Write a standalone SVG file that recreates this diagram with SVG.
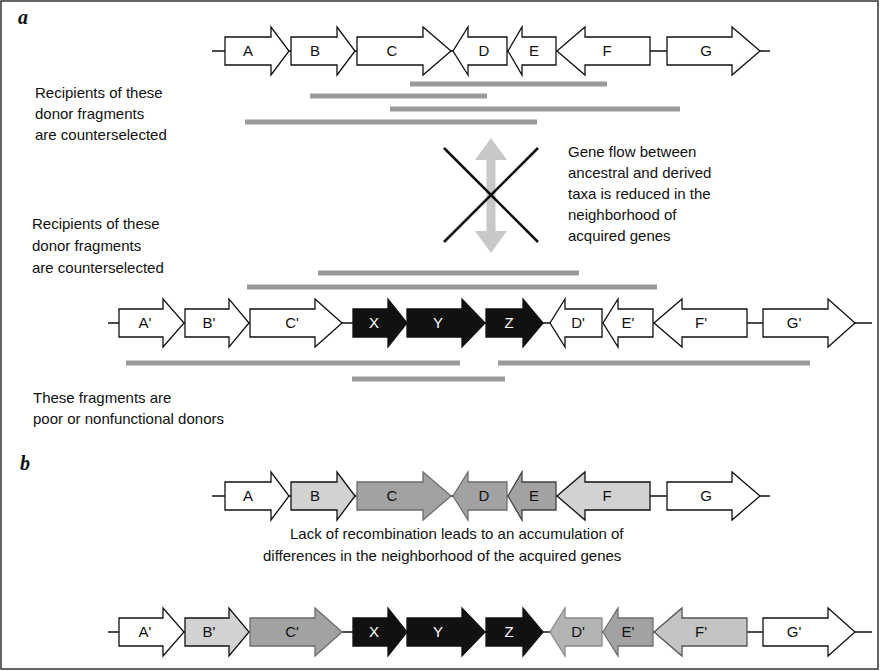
<svg xmlns="http://www.w3.org/2000/svg" width="880" height="671" viewBox="0 0 880 671">
  <style>
    .gene { stroke: #111; stroke-width: 1.3; stroke-linejoin: miter; }
    .w { fill: #fff; }
    .blk { fill: #111; }
    .lg { fill: #d2d2d2; }
    .mg { fill: #a2a2a2; stroke: #6e6e6e; }
    .bb { stroke: #111; stroke-width: 1.3; fill: none; }
    .bar { stroke: #999; stroke-width: 5; }
    .glab { font-family: "Liberation Sans", Arial, sans-serif; font-size: 15px; text-anchor: middle; fill: #111; }
    .wlab { font-family: "Liberation Sans", Arial, sans-serif; font-size: 15px; text-anchor: middle; fill: #fff; }
    .txt { font-family: "Liberation Sans", Arial, sans-serif; font-size: 15px; fill: #111; }
    .panel { font-family: "Liberation Serif", "Times New Roman", serif; font-size: 20px; font-weight: bold; font-style: italic; fill: #111; }
  </style>

  <rect x="1" y="1" width="877" height="668" fill="#fff" stroke="#333" stroke-width="1.5"/>

  <text class="panel" x="18" y="24">a</text>
  <text class="panel" x="20" y="470">b</text>

  <!-- panel a: ancestral genome -->
  <g id="row-a-ancestral">
    <line class="bb" x1="212" y1="51" x2="770" y2="51"/>
    <g id="a-A"><path class="gene w" d="M225,37 L271,37 L271,27 L289,51 L271,75 L271,65 L225,65 Z"/><text class="glab" x="248" y="56">A</text></g>
    <g id="a-B"><path class="gene w" d="M291,37 L337,37 L337,27 L355,51 L337,75 L337,65 L291,65 Z"/><text class="glab" x="315" y="56">B</text></g>
    <g id="a-C"><path class="gene w" d="M357,37 L423,37 L423,27 L451,51 L423,75 L423,65 L357,65 Z"/><text class="glab" x="392" y="56">C</text></g>
    <g id="a-D"><path class="gene w" d="M507,37 L468,37 L468,27 L453,51 L468,75 L468,65 L507,65 Z"/><text class="glab" x="484" y="56">D</text></g>
    <g id="a-E"><path class="gene w" d="M556,37 L522,37 L522,27 L508,51 L522,75 L522,65 L556,65 Z"/><text class="glab" x="534" y="56">E</text></g>
    <g id="a-F"><path class="gene w" d="M650,37 L585,37 L585,27 L557,51 L585,75 L585,65 L650,65 Z"/><text class="glab" x="607" y="56">F</text></g>
    <g id="a-G"><path class="gene w" d="M667,37 L732,37 L732,27 L760,51 L732,75 L732,65 L667,65 Z"/><text class="glab" x="706" y="56">G</text></g>
  </g>

  <!-- donor fragments of the ancestral genome -->
  <g id="fragments-top">
    <line class="bar" x1="410" y1="84" x2="607" y2="84"/>
    <line class="bar" x1="310" y1="96" x2="487" y2="96"/>
    <line class="bar" x1="390" y1="109" x2="680" y2="109"/>
    <line class="bar" x1="245" y1="122" x2="537" y2="122"/>
  </g>

  <g id="note-top">
    <text class="txt" x="35" y="98">Recipients of these</text>
    <text class="txt" x="35" y="119">donor fragments</text>
    <text class="txt" x="35" y="140">are counterselected</text>
  </g>

  <!-- blocked gene flow -->
  <g id="gene-flow">
    <path d="M491,138 L507,160 L495.5,160 L495.5,231 L507,231 L491,253 L475,231 L486.5,231 L486.5,160 L475,160 Z" fill="#c8c8c8"/>
    <line x1="444" y1="148" x2="538" y2="242" stroke="#111" stroke-width="2.6"/>
    <line x1="538" y1="148" x2="444" y2="242" stroke="#111" stroke-width="2.6"/>
    <text class="txt" x="568" y="157">Gene flow between</text>
    <text class="txt" x="568" y="178">ancestral and derived</text>
    <text class="txt" x="568" y="199">taxa is reduced in the</text>
    <text class="txt" x="568" y="220">neighborhood of</text>
    <text class="txt" x="568" y="241">acquired genes</text>
  </g>

  <g id="note-mid">
    <text class="txt" x="32" y="229">Recipients of these</text>
    <text class="txt" x="32" y="251">donor fragments</text>
    <text class="txt" x="32" y="273">are counterselected</text>
  </g>

  <g id="fragments-mid">
    <line class="bar" x1="318" y1="273" x2="579" y2="273"/>
    <line class="bar" x1="247" y1="287" x2="657" y2="287"/>
  </g>

  <!-- panel a: derived genome with acquired genes X, Y, Z -->
  <g id="row-a-derived">
    <line class="bb" x1="108" y1="323" x2="872" y2="323"/>
    <g id="a-A2"><path class="gene w" d="M119,309 L163,309 L163,299 L184,323 L163,347 L163,337 L119,337 Z"/><text class="glab" x="145" y="328">A'</text></g>
    <g id="a-B2"><path class="gene w" d="M185,309 L229,309 L229,299 L249,323 L229,347 L229,337 L185,337 Z"/><text class="glab" x="209" y="328">B'</text></g>
    <g id="a-C2"><path class="gene w" d="M250,309 L315,309 L315,299 L342,323 L315,347 L315,337 L250,337 Z"/><text class="glab" x="292" y="328">C'</text></g>
    <g id="a-X"><path class="gene blk" d="M353,309 L388,309 L388,299 L407,323 L388,347 L388,337 L353,337 Z"/><text class="wlab" x="374" y="328">X</text></g>
    <g id="a-Y"><path class="gene blk" d="M407,309 L462,309 L462,299 L485,323 L462,347 L462,337 L407,337 Z"/><text class="wlab" x="438" y="328">Y</text></g>
    <g id="a-Z"><path class="gene blk" d="M486,309 L523,309 L523,299 L543,323 L523,347 L523,337 L486,337 Z"/><text class="wlab" x="509" y="328">Z</text></g>
    <g id="a-D2"><path class="gene w" d="M602,309 L565,309 L565,299 L550,323 L565,347 L565,337 L602,337 Z"/><text class="glab" x="578" y="328">D'</text></g>
    <g id="a-E2"><path class="gene w" d="M653,309 L618,309 L618,299 L603,323 L618,347 L618,337 L653,337 Z"/><text class="glab" x="628" y="328">E'</text></g>
    <g id="a-F2"><path class="gene w" d="M747,309 L682,309 L682,299 L654,323 L682,347 L682,337 L747,337 Z"/><text class="glab" x="701" y="328">F'</text></g>
    <g id="a-G2"><path class="gene w" d="M763,309 L828,309 L828,299 L855,323 L828,347 L828,337 L763,337 Z"/><text class="glab" x="794" y="328">G'</text></g>
  </g>

  <g id="fragments-bottom">
    <line class="bar" x1="126" y1="363" x2="460" y2="363"/>
    <line class="bar" x1="498" y1="363" x2="810" y2="363"/>
    <line class="bar" x1="352" y1="379" x2="505" y2="379"/>
  </g>

  <g id="note-bottom">
    <text class="txt" x="33" y="403">These fragments are</text>
    <text class="txt" x="33" y="424">poor or nonfunctional donors</text>
  </g>

  <!-- panel b: ancestral genome -->
  <g id="row-b-ancestral">
    <line class="bb" x1="212" y1="496" x2="770" y2="496"/>
    <g id="b-A"><path class="gene w" d="M225,482 L271,482 L271,472 L289,496 L271,520 L271,510 L225,510 Z"/><text class="glab" x="248" y="501">A</text></g>
    <g id="b-B"><path class="gene lg" d="M291,482 L337,482 L337,472 L355,496 L337,520 L337,510 L291,510 Z"/><text class="glab" x="315" y="501">B</text></g>
    <g id="b-C"><path class="gene mg" d="M357,482 L423,482 L423,472 L451,496 L423,520 L423,510 L357,510 Z"/><text class="glab" x="392" y="501">C</text></g>
    <g id="b-D"><path class="gene mg" d="M507,482 L468,482 L468,472 L453,496 L468,520 L468,510 L507,510 Z"/><text class="glab" x="484" y="501">D</text></g>
    <g id="b-E"><path class="gene mg" d="M556,482 L522,482 L522,472 L508,496 L522,520 L522,510 L556,510 Z" style="stroke:#444"/><text class="glab" x="534" y="501">E</text></g>
    <g id="b-F"><path class="gene lg" d="M650,482 L585,482 L585,472 L557,496 L585,520 L585,510 L650,510 Z"/><text class="glab" x="607" y="501">F</text></g>
    <g id="b-G"><path class="gene w" d="M667,482 L732,482 L732,472 L760,496 L732,520 L732,510 L667,510 Z"/><text class="glab" x="706" y="501">G</text></g>
  </g>

  <g id="note-b">
    <text class="txt" x="290" y="539">Lack of recombination leads to an accumulation of</text>
    <text class="txt" x="263" y="561">differences in the neighborhood of the acquired genes</text>
  </g>

  <!-- panel b: derived genome -->
  <g id="row-b-derived">
    <line class="bb" x1="108" y1="632" x2="872" y2="632"/>
    <g id="b-A2"><path class="gene w" d="M119,618 L163,618 L163,608 L184,632 L163,656 L163,646 L119,646 Z"/><text class="glab" x="145" y="637">A'</text></g>
    <g id="b-B2"><path class="gene lg" d="M185,618 L229,618 L229,608 L249,632 L229,656 L229,646 L185,646 Z"/><text class="glab" x="209" y="637">B'</text></g>
    <g id="b-C2"><path class="gene mg" d="M250,618 L315,618 L315,608 L342,632 L315,656 L315,646 L250,646 Z"/><text class="glab" x="292" y="637">C'</text></g>
    <g id="b-X"><path class="gene blk" d="M353,618 L388,618 L388,608 L407,632 L388,656 L388,646 L353,646 Z"/><text class="wlab" x="374" y="637">X</text></g>
    <g id="b-Y"><path class="gene blk" d="M407,618 L462,618 L462,608 L485,632 L462,656 L462,646 L407,646 Z"/><text class="wlab" x="438" y="637">Y</text></g>
    <g id="b-Z"><path class="gene blk" d="M486,618 L523,618 L523,608 L543,632 L523,656 L523,646 L486,646 Z"/><text class="wlab" x="509" y="637">Z</text></g>
    <g id="b-D2"><path class="gene mg" d="M602,618 L565,618 L565,608 L550,632 L565,656 L565,646 L602,646 Z" style="fill:#b4b4b4;stroke:#8a8a8a"/><text class="glab" x="578" y="637">D'</text></g>
    <g id="b-E2"><path class="gene mg" d="M653,618 L618,618 L618,608 L603,632 L618,656 L618,646 L653,646 Z"/><text class="glab" x="628" y="637">E'</text></g>
    <g id="b-F2"><path class="gene lg" d="M747,618 L682,618 L682,608 L654,632 L682,656 L682,646 L747,646 Z" style="fill:#c4c4c4;stroke:#555"/><text class="glab" x="701" y="637">F'</text></g>
    <g id="b-G2"><path class="gene w" d="M763,618 L828,618 L828,608 L855,632 L828,656 L828,646 L763,646 Z"/><text class="glab" x="794" y="637">G'</text></g>
  </g>
</svg>
